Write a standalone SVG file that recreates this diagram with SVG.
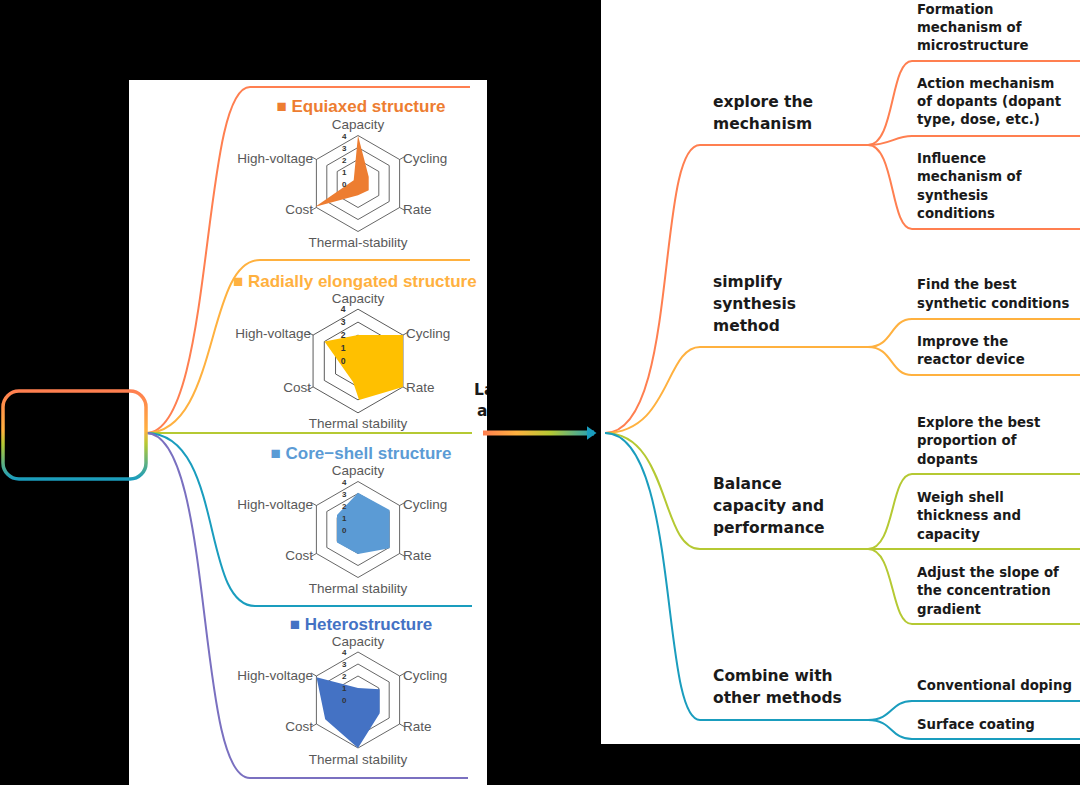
<svg xmlns="http://www.w3.org/2000/svg" width="1080" height="785" viewBox="0 0 1080 785">
<defs>
<linearGradient id="boxg" x1="0" y1="0" x2="0" y2="1"><stop offset="0" stop-color="#FF7F50"/><stop offset="0.45" stop-color="#FFB13F"/><stop offset="0.6" stop-color="#B5C933"/><stop offset="1" stop-color="#1A9DBE"/></linearGradient>
<linearGradient id="arrg" x1="483" y1="0" x2="595" y2="0" gradientUnits="userSpaceOnUse"><stop offset="0" stop-color="#FF7F50"/><stop offset="0.3" stop-color="#FFB13F"/><stop offset="0.6" stop-color="#B5C933"/><stop offset="1" stop-color="#1A9DBE"/></linearGradient>
<marker id="ah" markerWidth="4" markerHeight="4" refX="1.5" refY="2" orient="auto" markerUnits="strokeWidth"><path d="M0,0.6 L2,2 L0,3.4 Z" fill="#1A9DBE"/></marker>
<g id="grid" fill="none" stroke="#404040" stroke-width="0.8">
<polygon points="0,-48 41.6,-24 41.6,24 0,48 -41.6,24 -41.6,-24"/>
<polygon points="0,-36 31.2,-18 31.2,18 0,36 -31.2,18 -31.2,-18"/>
<polygon points="0,-24 20.8,-12 20.8,12 0,24 -20.8,12 -20.8,-12"/>
<line x1="41.6" y1="-24" x2="47" y2="-27"/><line x1="41.6" y1="24" x2="47" y2="27"/><line x1="-41.6" y1="24" x2="-47" y2="27"/><line x1="-41.6" y1="-24" x2="-47" y2="-27"/>
</g>
<g id="nums" font-family="'Liberation Sans',Arial,sans-serif" font-size="8" font-weight="bold" fill="#333">
<text x="-16" y="-45">4</text><text x="-16" y="-33">3</text><text x="-16" y="-21">2</text><text x="-16" y="-9">1</text><text x="-16" y="3">0</text>
</g>
</defs>
<style>
.lab{font-family:'Liberation Sans',Arial,sans-serif;font-size:13.5px;fill:#595959}
.ttl{font-family:'Liberation Sans',Arial,sans-serif;font-size:17px;font-weight:bold}
.mn{font-family:'DejaVu Sans',sans-serif;font-size:15.5px;font-weight:bold;fill:#1a1a1a}
.ch{font-family:'DejaVu Sans',sans-serif;font-size:13.3px;font-weight:bold;fill:#1a1a1a}
.c{fill:none;stroke-width:2}
</style>
<rect width="1080" height="785" fill="#000"/>
<rect x="129" y="80" width="358" height="705" fill="#fff"/>
<rect x="601" y="0" width="479" height="744" fill="#fff"/>
<g id="connectors">
<path class="c" d="M146,433 C215,433 200,87 250,87 L470,87" stroke="#FF7F50" stroke-width="3"/>
<path class="c" d="M146,433 C220,433 205,260 260,260 L470,260" stroke="#FFB13F" stroke-width="3"/>
<path class="c" d="M146,433 L472,433" stroke="#B5C933" stroke-width="3"/>
<path class="c" d="M146,433 C225,433 200,606 255,606 L472,606" stroke="#1A9DBE" stroke-width="3"/>
<path class="c" d="M146,433 C215,433 195,778 250,778 L468,778" stroke="#7A70C0" stroke-width="3"/>
<line x1="483" y1="433" x2="594" y2="433" stroke="url(#arrg)" stroke-width="5" marker-end="url(#ah)"/>
<path class="c" d="M605,433 C680,433 655,145 700,145 L868,145" stroke="#FF7F50" stroke-width="3"/>
<path class="c" d="M605,433 C670,433 665,347 700,347 L868,347" stroke="#FFB13F" stroke-width="3"/>
<path class="c" d="M605,433 C670,433 660,549 700,549 L868,549" stroke="#B5C933" stroke-width="3"/>
<path class="c" d="M605,433 C680,433 660,720 700,720 L868,720" stroke="#1A9DBE" stroke-width="3"/>
<g stroke="#FF7F50"><path class="c" d="M868,145 C895,145 890,61 912,61 L1080,61"/><path class="c" d="M868,145 C890,145 895,136 912,136 L1080,136"/><path class="c" d="M868,145 C895,145 890,229 912,229 L1080,229"/></g>
<g stroke="#FFB13F"><path class="c" d="M868,347 C893,347 890,319 912,319 L1080,319"/><path class="c" d="M868,347 C893,347 890,375 912,375 L1080,375"/></g>
<g stroke="#B5C933"><path class="c" d="M868,549 C895,549 890,474 912,474 L1080,474"/><path class="c" d="M868,549 L1080,549"/><path class="c" d="M868,549 C895,549 890,624 912,624 L1080,624"/></g>
<g stroke="#1A9DBE"><path class="c" d="M868,720 C893,720 890,701 912,701 L1080,701"/><path class="c" d="M868,720 C893,720 890,739 912,739 L1080,739"/></g>
</g>
<g id="root"><rect x="3" y="391" width="143" height="88" rx="16" fill="none" stroke="url(#boxg)" stroke-width="3.5"/></g>
<g id="equiaxed">
<text class="ttl" x="361" y="112" text-anchor="middle" fill="#ED7D31">■ Equiaxed structure</text>
<g transform="translate(358,183.5)"><use href="#grid"/>
<polygon points="0,-48 10.7,-6.7 10.7,6.7 0,11.7 -42.7,23.3 -4.3,-3.3" fill="#ED7D31"/><use href="#nums"/></g>
<text class="lab" x="358" y="129" text-anchor="middle">Capacity</text>
<text class="lab" x="403" y="163">Cycling</text><text class="lab" x="403" y="214">Rate</text>
<text class="lab" x="358" y="247" text-anchor="middle">Thermal-stability</text>
<text class="lab" x="313" y="214" text-anchor="end">Cost</text><text class="lab" x="313" y="163" text-anchor="end">High-voltage</text>
</g>
<g id="radial">
<text class="ttl" x="233" y="287" fill="#FFB13F">■ Radially elongated structure</text>
<g transform="translate(358,361) scale(1.08)"><use href="#grid"/>
<polygon points="0,-24 41.6,-24 41.6,24 1,36 -4.6,19.4 -31,-18" fill="#FFC000"/><use href="#nums"/></g>
<text class="lab" x="358" y="303" text-anchor="middle">Capacity</text>
<text class="lab" x="406" y="338">Cycling</text><text class="lab" x="406" y="392">Rate</text>
<text class="lab" x="358" y="428" text-anchor="middle">Thermal stability</text>
<text class="lab" x="311" y="338" text-anchor="end">High-voltage</text><text class="lab" x="311" y="392" text-anchor="end">Cost</text>
</g>
<rect x="487" y="270" width="12" height="30" fill="#000"/>
<g id="coreshell">
<text class="ttl" x="361" y="459" text-anchor="middle" fill="#5B9BD5">■ Core−shell structure</text>
<g transform="translate(358,529.5)"><use href="#grid"/>
<polygon points="0,-36.8 31.6,-19.5 31.6,18.8 0,24.5 -21,13 -21,-14.5" fill="#5B9BD5"/><use href="#nums"/></g>
<text class="lab" x="358" y="475" text-anchor="middle">Capacity</text>
<text class="lab" x="403" y="509">Cycling</text><text class="lab" x="403" y="560">Rate</text>
<text class="lab" x="358" y="593" text-anchor="middle">Thermal stability</text>
<text class="lab" x="313" y="560" text-anchor="end">Cost</text><text class="lab" x="313" y="509" text-anchor="end">High-voltage</text>
</g>
<g id="hetero">
<text class="ttl" x="361" y="630" text-anchor="middle" fill="#4472C4">■ Heterostructure</text>
<g transform="translate(358,700)"><use href="#grid"/>
<polygon points="0,-12 21.7,-10.7 21.7,13.3 0,48 -32.8,19.3 -41.5,-22.7" fill="#4472C4"/><use href="#nums"/></g>
<text class="lab" x="358" y="646" text-anchor="middle">Capacity</text>
<text class="lab" x="403" y="680">Cycling</text><text class="lab" x="403" y="731">Rate</text>
<text class="lab" x="358" y="764" text-anchor="middle">Thermal stability</text>
<text class="lab" x="313" y="731" text-anchor="end">Cost</text><text class="lab" x="313" y="680" text-anchor="end">High-voltage</text>
</g>
<g id="clipped-label"><text class="mn" x="474" y="395">La</text><text class="mn" x="477" y="416">a</text></g>
<rect x="487" y="370" width="114" height="55" fill="#000"/>
<g id="n-explore"><text class="mn" x="713" y="107">explore the</text><text class="mn" x="713" y="129">mechanism</text></g>
<g id="n-form"><text class="ch" x="917" y="14">Formation</text><text class="ch" x="917" y="32">mechanism of</text><text class="ch" x="917" y="50">microstructure</text></g>
<g id="n-action"><text class="ch" x="917" y="88">Action mechanism</text><text class="ch" x="917" y="106">of dopants (dopant</text><text class="ch" x="917" y="124">type, dose, etc.)</text></g>
<g id="n-influence"><text class="ch" x="917" y="163">Influence</text><text class="ch" x="917" y="181">mechanism of</text><text class="ch" x="917" y="200">synthesis</text><text class="ch" x="917" y="218">conditions</text></g>
<g id="n-simplify"><text class="mn" x="713" y="287">simplify</text><text class="mn" x="713" y="309">synthesis</text><text class="mn" x="713" y="331">method</text></g>
<g id="n-find"><text class="ch" x="917" y="289">Find the best</text><text class="ch" x="917" y="308">synthetic conditions</text></g>
<g id="n-improve"><text class="ch" x="917" y="346">Improve the</text><text class="ch" x="917" y="364">reactor device</text></g>
<g id="n-balance"><text class="mn" x="713" y="489">Balance</text><text class="mn" x="713" y="511">capacity and</text><text class="mn" x="713" y="533">performance</text></g>
<g id="n-best"><text class="ch" x="917" y="427">Explore the best</text><text class="ch" x="917" y="445">proportion of</text><text class="ch" x="917" y="464">dopants</text></g>
<g id="n-weigh"><text class="ch" x="917" y="502">Weigh shell</text><text class="ch" x="917" y="520">thickness and</text><text class="ch" x="917" y="539">capacity</text></g>
<g id="n-adjust"><text class="ch" x="917" y="577">Adjust the slope of</text><text class="ch" x="917" y="595">the concentration</text><text class="ch" x="917" y="614">gradient</text></g>
<g id="n-combine"><text class="mn" x="713" y="681">Combine with</text><text class="mn" x="713" y="703">other methods</text></g>
<g id="n-conv"><text class="ch" x="917" y="690">Conventional doping</text></g>
<g id="n-surf"><text class="ch" x="917" y="729">Surface coating</text></g>
</svg>
